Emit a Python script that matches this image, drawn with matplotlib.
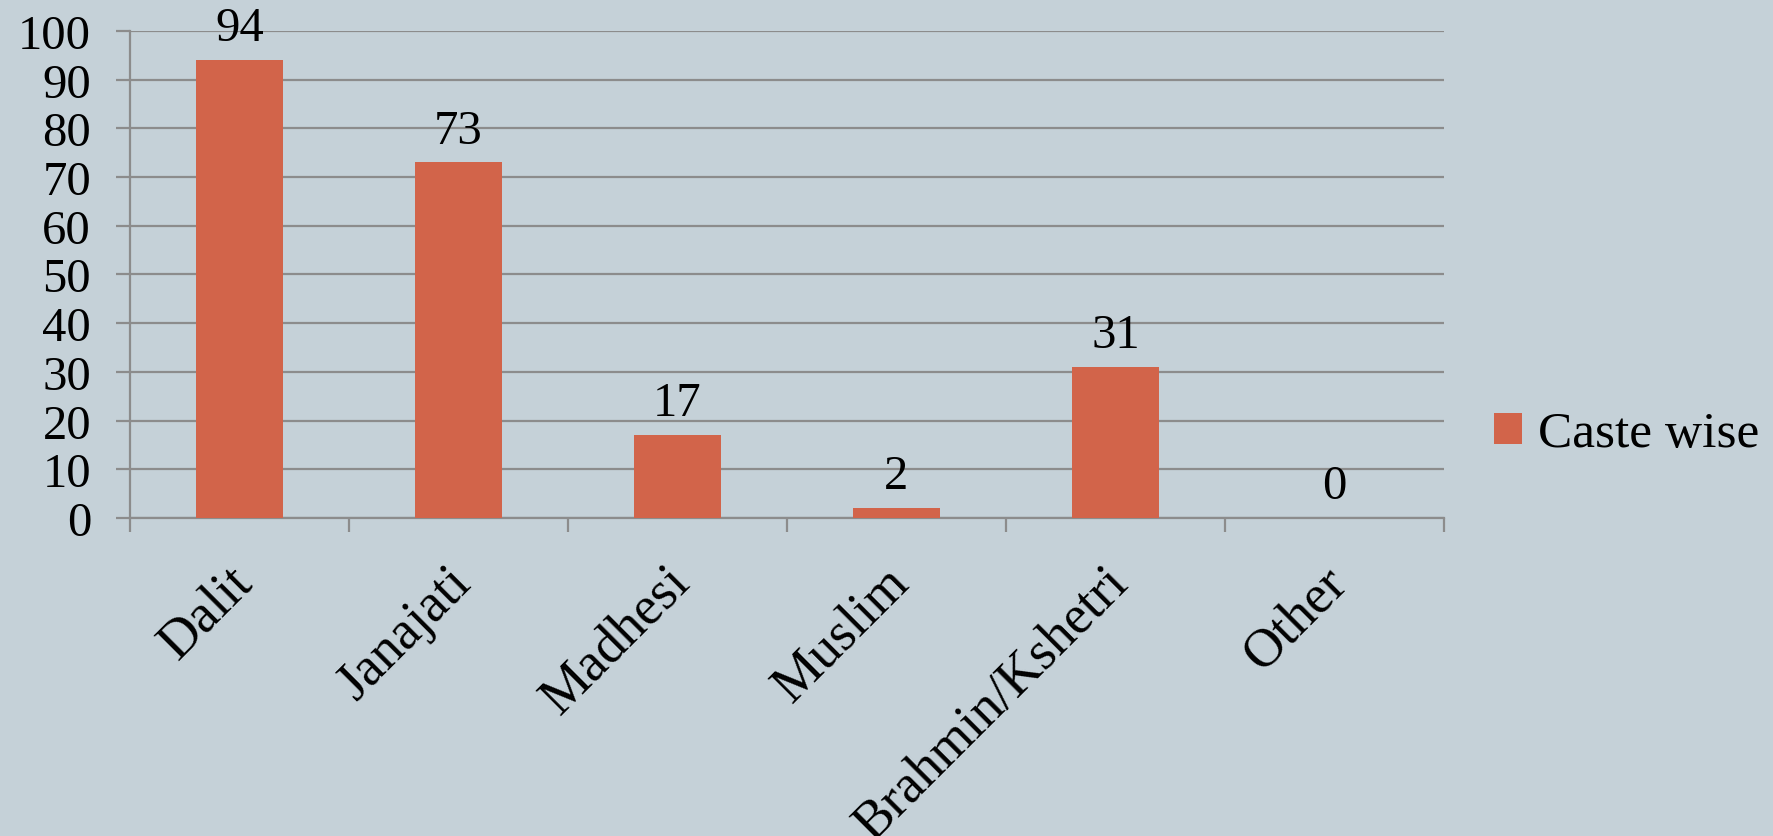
import numpy as np
import matplotlib
matplotlib.use("Agg")
import matplotlib.pyplot as plt
import matplotlib.transforms as mtransforms

# Chart data
categories = ["Dalit", "Janajati", "Madhesi", "Muslim", "Brahmin/Kshetri", "Other"]
values = [94, 73, 17, 2, 31, 0]
series_name = "Caste wise"
y_ticks = [0, 10, 20, 30, 40, 50, 60, 70, 80, 90, 100]

bg = "#C5D1D8"
bar_color = "#D2644A"
grid_color = "#8C8C8C"

plt.rcParams["font.family"] = ["Liberation Serif", "DejaVu Serif"]

fig = plt.figure(figsize=(17.73, 8.37), dpi=100, facecolor=bg)
ax = fig.add_axes([0.0733, 0.38, 0.7411, 0.5818])
ax.set_facecolor(bg)

x = np.arange(len(categories))
bars = ax.bar(x, values, width=0.4, color=bar_color, label=series_name, zorder=3)
ax.bar_label(bars, labels=[str(v) for v in values], padding=7, fontsize=35)

ax.set_xlim(-0.5, len(categories) - 0.5)
ax.set_ylim(0, 100)
ax.set_yticks(y_ticks)
ax.yaxis.grid(True, color=grid_color, linewidth=1.6, zorder=0)
ax.tick_params(axis="y", labelsize=35, length=10, width=1.6, color=grid_color, pad=18)

# category labels at centers, tick marks at boundaries
ax.set_xticks(x)
ax.set_xticklabels(categories, rotation=45, ha="right", rotation_mode="anchor", fontsize=39)
ax.tick_params(axis="x", which="major", length=0, pad=28)
ax.set_xticks(np.arange(-0.5, len(categories)), minor=True)
ax.tick_params(axis="x", which="minor", length=10, width=1.6, color=grid_color)

shift = mtransforms.ScaledTranslation(-9 / 72, 0, fig.dpi_scale_trans)
for lbl in ax.get_xticklabels():
    lbl.set_transform(lbl.get_transform() + shift)

for side in ["top", "right"]:
    ax.spines[side].set_visible(False)
for side in ["left", "bottom"]:
    ax.spines[side].set_color(grid_color)
    ax.spines[side].set_linewidth(1.6)

ax.legend(loc="center left", bbox_to_anchor=(1.038, 0.172), frameon=False,
          fontsize=37, handlelength=0.55, handleheight=0.55, handletextpad=0.3,
          borderpad=0, borderaxespad=0)

fig.savefig("out.png", dpi=100, facecolor=bg)
